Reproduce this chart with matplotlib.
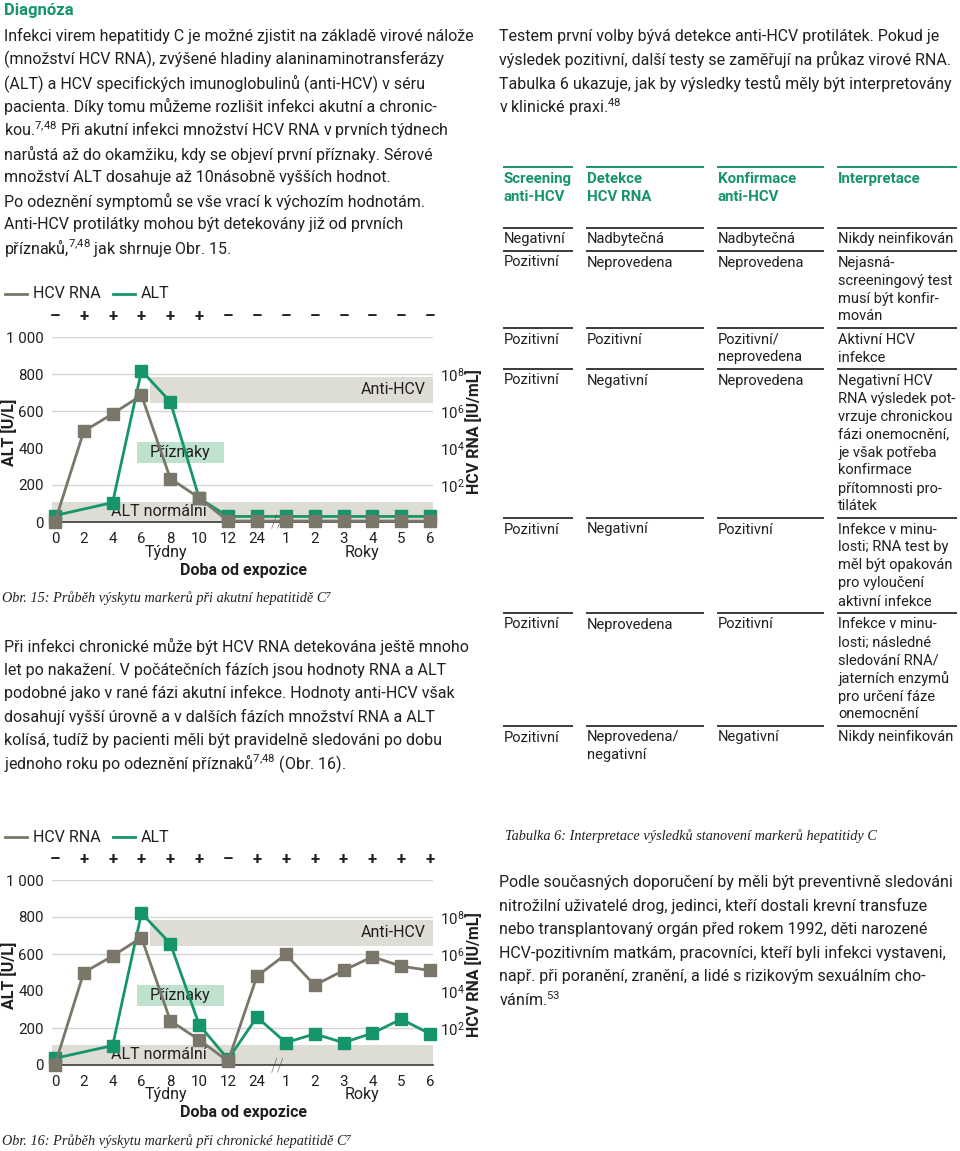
import matplotlib
matplotlib.use("Agg")
import matplotlib.pyplot as plt
from matplotlib.lines import Line2D

plt.rcParams["font.family"] = ["Roboto", "DejaVu Sans"]
plt.rcParams["mathtext.fontset"] = "custom"
plt.rcParams["mathtext.rm"] = "Roboto"
plt.rcParams["mathtext.it"] = "Roboto:italic"
plt.rcParams["mathtext.bf"] = "Roboto:bold"

W, H = 960, 1151
GREEN = "#17956a"
GRAY = "#7b766a"
BAND = "#dddcd5"
SYMPT = "#bfe2cf"
INK = "#231f20"
BODY = 11.55
TICK = 10.8

# ---- chart data (HCV RNA as log10 IU/mL, ALT in U/L) ----
time_labels = ["0", "2", "4", "6", "8", "10", "12", "24", "1", "2", "3", "4", "5", "6"]
acute_rna = [0, 4.9, 5.85, 6.85, 2.35, 1.3, 0.05, 0.05, 0.05, 0.05, 0.05, 0.05, 0.05, 0.05]
acute_alt = [35, None, 105, 818, 650, 128, 30, 30, 30, 30, 30, 30, 30, 30]
acute_anti = ["–", "+", "+", "+", "+", "+", "–", "–", "–", "–", "–", "–", "–", "–"]
chronic_rna = [0, 5.0, 5.89, 6.89, 2.39, 1.36, 0.2, 4.8, 5.98, 4.31, 5.11, 5.85, 5.34, 5.11]
chronic_alt = [36, None, 105, 821, 656, 217, 31, 259, 121, 168, 121, 172, 248, 168]
chronic_anti = ["–", "+", "+", "+", "+", "+", "–", "+", "+", "+", "+", "+", "+", "+"]

alt_ticks = [0, 200, 400, 600, 800, 1000]
alt_tick_labels = ["0", "200", "400", "600", "800", "1 000"]
alt_grid = [200, 600, 800, 1000]
rna_ticks = [2, 4, 6, 8]
alt_normal = (0, 110)
anti_band = (3.3, 645, 785)
sympt_band = (2.85, 5.85, 320, 430)

# ---- text data ----
SUP748 = r"$^{7,\!48}$"
left_par1 = [
    "Infekci virem hepatitidy C je možné zjistit na základě virové nálože",
    "(množství HCV RNA), zvýšené hladiny alaninaminotransferázy",
    "(ALT) a HCV specifických imunoglobulinů (anti-HCV) v séru",
    "pacienta. Díky tomu můžeme rozlišit infekci akutní a chronic-",
    "kou." + SUP748 + " Při akutní infekci množství HCV RNA v prvních týdnech",
    "narůstá až do okamžiku, kdy se objeví první příznaky. Sérové",
    "množství ALT dosahuje až 10násobně vyšších hodnot.",
    "Po odeznění symptomů se vše vrací k výchozím hodnotám.",
    "Anti-HCV protilátky mohou být detekovány již od prvních",
    "příznaků," + SUP748 + " jak shrnuje Obr. 15.",
]
left_par2 = [
    "Při infekci chronické může být HCV RNA detekována ještě mnoho",
    "let po nakažení. V počátečních fázích jsou hodnoty RNA a ALT",
    "podobné jako v rané fázi akutní infekce. Hodnoty anti-HCV však",
    "dosahují vyšší úrovně a v dalších fázích množství RNA a ALT",
    "kolísá, tudíž by pacienti měli být pravidelně sledováni po dobu",
    "jednoho roku po odeznění příznaků" + SUP748 + " (Obr. 16).",
]
right_par1 = [
    "Testem první volby bývá detekce anti-HCV protilátek. Pokud je",
    "výsledek pozitivní, další testy se zaměřují na průkaz virové RNA.",
    "Tabulka 6 ukazuje, jak by výsledky testů měly být interpretovány",
    "v klinické praxi.$^{48}$",
]
right_par2 = [
    "Podle současných doporučení by měli být preventivně sledováni",
    "nitrožilní uživatelé drog, jedinci, kteří dostali krevní transfuze",
    "nebo transplantovaný orgán před rokem 1992, děti narozené",
    "HCV-pozitivním matkám, pracovníci, kteří byli infekci vystaveni,",
    "např. při poranění, zranění, a lidé s rizikovým sexuálním cho-",
    "váním.$^{53}$",
]
table_header = [["Screening", "anti-HCV"], ["Detekce", "HCV RNA"],
                ["Konfirmace", "anti-HCV"], ["Interpretace"]]
table_rows = [
    [["Negativní"], ["Nadbytečná"], ["Nadbytečná"], ["Nikdy neinfikován"]],
    [["Pozitivní"], ["Neprovedena"], ["Neprovedena"],
     ["Nejasná-", "screeningový test", "musí být konfir-", "mován"]],
    [["Pozitivní"], ["Pozitivní"], ["Pozitivní/", "neprovedena"], ["Aktivní HCV", "infekce"]],
    [["Pozitivní"], ["Negativní"], ["Neprovedena"],
     ["Negativní HCV", "RNA výsledek pot-", "vrzuje chronickou", "fázi onemocnění,",
      "je však potřeba", "konfirmace", "přítomnosti pro-", "tilátek"]],
    [["Pozitivní"], ["Negativní"], ["Pozitivní"],
     ["Infekce v minu-", "losti; RNA test by", "měl být opakován", "pro vyloučení", "aktivní infekce"]],
    [["Pozitivní"], ["Neprovedena"], ["Pozitivní"],
     ["Infekce v minu-", "losti; následné", "sledování RNA/", "jaterních enzymů",
      "pro určení fáze", "onemocnění"]],
    [["Pozitivní"], ["Neprovedena/", "negativní"], ["Negativní"], ["Nikdy neinfikován"]],
]
caption15 = "Obr. 15: Průběh výskytu markerů při akutní hepatitidě C⁷"
caption16 = "Obr. 16: Průběh výskytu markerů při chronické hepatitidě C⁷"
caption_tab = "Tabulka 6: Interpretace výsledků stanovení markerů hepatitidy C"
SERIF = ["Liberation Serif", "DejaVu Serif"]

fig = plt.figure(figsize=(W / 100, H / 100), dpi=100)


def fx(x):
    return x / W


def fy(y):
    return 1 - y / H


def ptext(x, y, s, **kw):
    kw.setdefault("fontsize", BODY)
    kw.setdefault("color", INK)
    kw.setdefault("va", "center")
    return fig.text(fx(x), fy(y), s, **kw)


def paragraph(x, y, lines, step=23.6):
    for i, s in enumerate(lines):
        ptext(x, y + i * step, s)


def draw_chart(y0, rna, alt, anti, caption):
    ax = fig.add_axes([fx(52), fy(y0), (433 - 52) / W, 185 / H])
    ax.set_xlim(-0.1, 13.1)
    ax.set_ylim(0, 1000)
    for s in ["top", "left", "right"]:
        ax.spines[s].set_visible(False)
    ax.spines["bottom"].set_color("#3a3a3a")
    ax.spines["bottom"].set_linewidth(1.2)
    ax.patch.set_alpha(0)
    for v in alt_grid:
        ax.axhline(v, color="#d4d4d4", lw=1, zorder=0)
    ax.axhspan(alt_normal[0], alt_normal[1], color=BAND, lw=0, zorder=0.5)
    ax.fill_between([anti_band[0], 13.1], anti_band[1], anti_band[2], color=BAND, lw=0, zorder=0.5)
    ax.fill_between([sympt_band[0], sympt_band[1]], sympt_band[2], sympt_band[3],
                    color=SYMPT, lw=0, zorder=0.5)
    ax.text(3.6, 55, "ALT normální", ha="center", va="center", fontsize=BODY, color=INK, zorder=1)
    ax.text(12.85, 715, "Anti-HCV", ha="right", va="center", fontsize=BODY, color=INK, zorder=1)
    ax.text(4.35, 375, "Příznaky", ha="center", va="center", fontsize=BODY, color=INK, zorder=1)

    xs = [i for i, v in enumerate(alt) if v is not None]
    ys = [v for v in alt if v is not None]
    ax.plot(xs, ys, color=GREEN, lw=2, marker="s", ms=8.5, mec=GREEN, mfc=GREEN,
            clip_on=False, zorder=3)

    ax.set_yticks(alt_ticks)
    ax.set_yticklabels(alt_tick_labels)
    ax.set_xticks(range(len(time_labels)))
    ax.set_xticklabels(time_labels)
    ax.tick_params(axis="both", length=0, labelsize=TICK, labelcolor=INK)
    ax.tick_params(axis="y", pad=6)
    ax.tick_params(axis="x", pad=7)
    for i, s in enumerate(anti):
        ax.text(i, 1110, s, ha="center", va="center", fontsize=12, fontweight="bold",
                color=INK, clip_on=False)
    ax.text(7.72, 0, "//", ha="center", va="center", fontsize=13, color="#3a3a3a",
            fontweight="light", zorder=5)

    ax2 = ax.twinx()
    ax2.set_ylim(0, 10)
    for s in ax2.spines.values():
        s.set_visible(False)
    ax2.plot(range(len(rna)), rna, color=GRAY, lw=2, marker="s", ms=9, mec=GRAY, mfc=GRAY,
             clip_on=False, zorder=4)
    ax2.set_yticks(rna_ticks)
    ax2.set_yticklabels([f"$10^{{{t}}}$" for t in rna_ticks])
    ax2.tick_params(axis="y", length=0, labelsize=TICK, labelcolor=INK, pad=5)

    # legend row
    fig.add_artist(Line2D([fx(5), fx(27)], [fy(y0 - 228)] * 2, color=GRAY, lw=2))
    ptext(33, y0 - 228, "HCV RNA")
    fig.add_artist(Line2D([fx(113), fx(135)], [fy(y0 - 228)] * 2, color=GREEN, lw=2))
    ptext(141, y0 - 228, "ALT")

    ptext(9, y0 - 90, "ALT [U/L]", rotation=90, ha="center", fontweight="bold")
    ptext(474, y0 - 90, "HCV RNA [IU/mL]", rotation=90, ha="center", fontweight="bold")
    ptext(166, y0 + 30, "Týdny", ha="center")
    ptext(362, y0 + 30, "Roky", ha="center")
    ptext(243, y0 + 48, "Doba od expozice", ha="center", fontweight="bold")
    ptext(2, y0 + 76, caption, family=SERIF, style="italic", fontsize=10.3)


# ---- left column ----
ptext(4, 10, "Diagnóza", color=GREEN, fontweight="bold", fontsize=12)
paragraph(4, 36, left_par1)
draw_chart(522, acute_rna, acute_alt, acute_anti, caption15)
paragraph(4, 646, left_par2)
draw_chart(1065, chronic_rna, chronic_alt, chronic_anti, caption16)

# ---- right column ----
paragraph(499, 36, right_par1)

col_x = [504, 587, 718, 838]
col_end = [572, 703, 823, 956]
line_step = 18


def rules(y, color, lw):
    for a, b in zip(col_x, col_end):
        fig.add_artist(Line2D([fx(a), fx(b)], [fy(y)] * 2, color=color, lw=lw))


rules(167, GREEN, 1.4)
for c, cell in enumerate(table_header):
    for k, s in enumerate(cell):
        ptext(col_x[c], 179 + k * 18, s, color=GREEN, fontweight="bold", fontsize=10.8)
y = 228
for row in table_rows:
    rules(y, "#3a3a3a", 1.4)
    for c, cell in enumerate(row):
        for k, s in enumerate(cell):
            ptext(col_x[c], y + 11.5 + k * line_step, s, fontsize=10.5)
    n = max(len(cell) for cell in row)
    y += 23 + (n - 1) * line_step

ptext(505, 836, caption_tab, family=SERIF, style="italic", fontsize=10.3)
paragraph(499, 882, right_par2)

fig.savefig("out.png", dpi=100)
